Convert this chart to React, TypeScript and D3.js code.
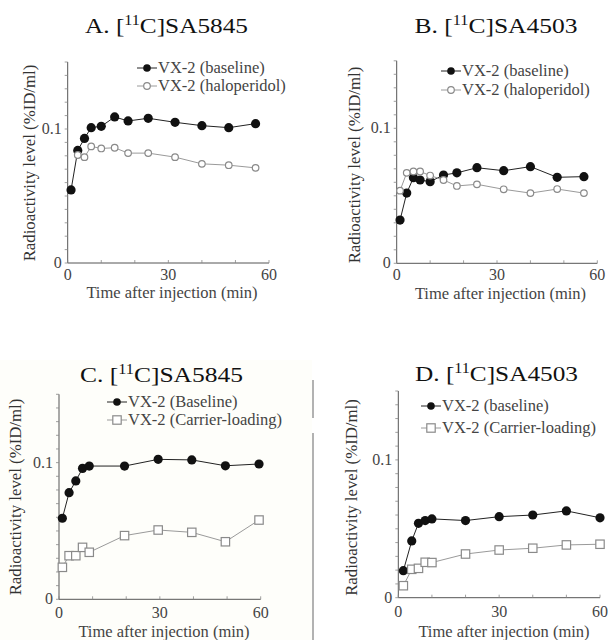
import React from "react";
import * as d3 from "d3";

// panel A: [11C]SA5845, baseline vs haloperidol
const timeA = [1, 3, 5, 7, 10, 14, 18, 24, 32, 40, 48, 56];
const baselineA = [0.0545, 0.084, 0.093, 0.101, 0.102, 0.109, 0.106, 0.108, 0.105, 0.1025, 0.101, 0.104];
const timeHaloA = [3, 5, 7, 10, 14, 18, 24, 32, 40, 48, 56];
const haloA = [0.0806, 0.079, 0.087, 0.0855, 0.086, 0.082, 0.082, 0.079, 0.074, 0.073, 0.071];

// panel B: [11C]SA4503, baseline vs haloperidol
const timeB = [1, 3, 5, 7, 10, 14, 18, 24, 32, 40, 48, 56];
const baselineB = [0.032, 0.052, 0.0634, 0.0617, 0.0605, 0.0654, 0.067, 0.0708, 0.0686, 0.0716, 0.0637, 0.0642];
const haloB = [0.0538, 0.067, 0.068, 0.068, 0.065, 0.0617, 0.0573, 0.0585, 0.0548, 0.052, 0.055, 0.052];

// panel C: [11C]SA5845, baseline vs carrier-loading
const timeC = [1, 3, 5, 7, 9, 19.5, 29.5, 39.5, 49.5, 59.5];
const baselineC = [0.0593, 0.078, 0.0866, 0.0958, 0.0975, 0.0975, 0.1024, 0.102, 0.0977, 0.099];
const carrierC = [0.0234, 0.0319, 0.0319, 0.038, 0.0344, 0.0466, 0.0507, 0.049, 0.0421, 0.058];

// panel D: [11C]SA4503, baseline vs carrier-loading
const timeD = [1.5, 4, 6, 8, 10, 20, 30, 40, 50, 60];
const baselineD = [0.0196, 0.0412, 0.054, 0.056, 0.0572, 0.056, 0.0588, 0.06, 0.063, 0.058];
const carrierD = [0.0087, 0.0206, 0.0213, 0.0257, 0.0255, 0.0317, 0.0346, 0.0359, 0.0383, 0.0388];

const xTicks = [0, 30, 60];
const yTicks = [0, 0.1];
const yTickLabels = ["0", "0.1"];

const FONT = "Liberation Serif, Times New Roman, serif";

type Series = { t: number[]; v: number[]; label: string; kind: "filled" | "open" | "square" };

type PanelProps = {
  letter: string;
  compound: string;
  x0: number;
  x1: number;
  yZero: number;
  yTop: number;
  titleX: number;
  titleY: number;
  legX: number;
  legY: number;
  legGap: number;
  tickDy: number;
  xLabelX: number;
  xLabelY: number;
  yLabelX: number;
  yLabelY: number;
  series: Series[];
};

const Marker = ({ kind, cx, cy, small }: { kind: string; cx: number; cy: number; small?: boolean }) => {
  if (kind === "filled") return <circle cx={cx} cy={cy} r={small ? 3.8 : 4.6} fill="#111" />;
  if (kind === "open")
    return <circle cx={cx} cy={cy} r={3.3} fill="#fff" stroke="#8a8a8a" strokeWidth={1.2} />;
  return <rect x={cx - 4.2} y={cy - 4.2} width={8.4} height={8.4} fill="#fff" stroke="#8a8a8a" strokeWidth={1.2} />;
};

const Panel = (p: PanelProps) => {
  const x = d3.scaleLinear().domain([0, 60]).range([p.x0, p.x1]);
  const y = d3.scaleLinear().domain([0, 0.15]).range([p.yZero, p.yTop]);
  const minorY = d3.range(0, 0.1501, 0.01);
  const minorX = d3.range(0, 61, 10);

  return (
    <g>
      <text
        x={p.titleX}
        y={p.titleY}
        textAnchor="middle"
        fontFamily={FONT}
        fontSize={22}
        fill="#111"
        textLength={163}
        lengthAdjust="spacingAndGlyphs"
      >
        {p.letter}. [<tspan fontSize={14} dy={-8}>11</tspan>
        <tspan dy={8}>C]{p.compound}</tspan>
      </text>

      {/* axes */}
      <line x1={p.x0} x2={p.x0} y1={p.yTop} y2={p.yZero} stroke="#555" strokeWidth={1} />
      <line x1={p.x0} x2={p.x1} y1={p.yZero} y2={p.yZero} stroke="#555" strokeWidth={1} />
      {minorY.map((v, i) => (
        <line key={"my" + i} x1={p.x0 - 3} x2={p.x0} y1={y(v)} y2={y(v)} stroke="#888" strokeWidth={0.8} />
      ))}
      {minorX.map((v, i) => (
        <line key={"mx" + i} x1={x(v)} x2={x(v)} y1={p.yZero - 3} y2={p.yZero} stroke="#888" strokeWidth={0.8} />
      ))}
      {yTicks.map((v, i) => (
        <text key={"yt" + i} x={p.x0 - 6} y={y(v) + 5} textAnchor="end" fontFamily={FONT} fontSize={16} fill="#444">
          {yTickLabels[i]}
        </text>
      ))}
      {xTicks.map((v) => (
        <text key={"xt" + v} x={x(v)} y={p.yZero + p.tickDy} textAnchor="middle" fontFamily={FONT} fontSize={16} fill="#444">
          {v}
        </text>
      ))}
      <text x={p.xLabelX} y={p.xLabelY} textAnchor="middle" fontFamily={FONT} fontSize={16.5} fill="#444">
        Time after injection (min)
      </text>
      <text
        transform={`translate(${p.yLabelX},${p.yLabelY}) rotate(-90)`}
        textAnchor="middle"
        dominantBaseline="central"
        fontFamily={FONT}
        fontSize={16.8}
        fill="#333"
      >
        Radioactivity level (%ID/ml)
      </text>

      {/* data */}
      {p.series.map((s, si) => {
        const pts = s.t.map((t, i) => [t, s.v[i]] as [number, number]);
        const gen = d3
          .line<[number, number]>()
          .x((d) => x(d[0]))
          .y((d) => y(d[1]));
        const stroke = s.kind === "filled" ? "#222" : "#9a9a9a";
        return (
          <g key={"s" + si}>
            <path d={gen(pts) || ""} fill="none" stroke={stroke} strokeWidth={1} />
            {pts.map((d, i) => (
              <Marker key={i} kind={s.kind} cx={x(d[0])} cy={y(d[1])} />
            ))}
          </g>
        );
      })}

      {/* legend */}
      {p.series.map((s, si) => {
        const ly = p.legY + si * p.legGap;
        const stroke = s.kind === "filled" ? "#222" : "#9a9a9a";
        return (
          <g key={"l" + si}>
            <line x1={p.legX} x2={p.legX + 20} y1={ly} y2={ly} stroke={stroke} strokeWidth={1} />
            <Marker kind={s.kind} cx={p.legX + 10} cy={ly} small />
            <text x={p.legX + 21} y={ly + 5} fontFamily={FONT} fontSize={16.5} fill="#444">
              {s.label}
            </text>
          </g>
        );
      })}
    </g>
  );
};

export default function App() {
  return (
    <svg width={608} height={640} style={{ position: "absolute", left: 0, top: 0, background: "#fff" }}>
      <rect x={0} y={360} width={312} height={280} fill="#fefefa" />
      <Panel
        letter="A"
        compound="SA5845"
        x0={67.7}
        x1={269}
        yZero={263}
        yTop={62}
        titleX={166.5}
        titleY={33}
        legX={137}
        legY={68}
        legGap={18}
        tickDy={17}
        xLabelX={172}
        xLabelY={298}
        yLabelX={29}
        yLabelY={163}
        series={[
          { t: timeA, v: baselineA, label: "VX-2 (baseline)", kind: "filled" },
          { t: timeHaloA, v: haloA, label: "VX-2 (haloperidol)", kind: "open" },
        ]}
      />
      <Panel
        letter="B"
        compound="SA4503"
        x0={396.7}
        x1={597.3}
        yZero={263.3}
        yTop={60.8}
        titleX={496}
        titleY={33}
        legX={441}
        legY={71}
        legGap={19}
        tickDy={17}
        xLabelX={500.5}
        xLabelY={299}
        yLabelX={354}
        yLabelY={165}
        series={[
          { t: timeB, v: baselineB, label: "VX-2 (baseline)", kind: "filled" },
          { t: timeB, v: haloB, label: "VX-2 (haloperidol)", kind: "open" },
        ]}
      />
      <Panel
        letter="C"
        compound="SA5845"
        x0={59}
        x1={260.7}
        yZero={599.3}
        yTop={394.3}
        titleX={161.5}
        titleY={382}
        legX={107}
        legY={402}
        legGap={18}
        tickDy={19}
        xLabelX={164}
        xLabelY={637}
        yLabelX={15}
        yLabelY={497}
        series={[
          { t: timeC, v: baselineC, label: "VX-2 (Baseline)", kind: "filled" },
          { t: timeC, v: carrierC, label: "VX-2 (Carrier-loading)", kind: "square" },
        ]}
      />
      <Panel
        letter="D"
        compound="SA4503"
        x0={398.3}
        x1={600}
        yZero={597.7}
        yTop={391}
        titleX={496.5}
        titleY={381}
        legX={421}
        legY={406}
        legGap={22}
        tickDy={19}
        xLabelX={504}
        xLabelY={637}
        yLabelX={351}
        yLabelY={497.5}
        series={[
          { t: timeD, v: baselineD, label: "VX-2 (baseline)", kind: "filled" },
          { t: timeD, v: carrierD, label: "VX-2 (Carrier-loading)", kind: "square" },
        ]}
      />
      {/* divider between lower panels */}
      <line x1={313} x2={313} y1={380} y2={418} stroke="#999" strokeWidth={1.5} />
      <line x1={313} x2={313} y1={433} y2={640} stroke="#999" strokeWidth={1.5} />
    </svg>
  );
}
